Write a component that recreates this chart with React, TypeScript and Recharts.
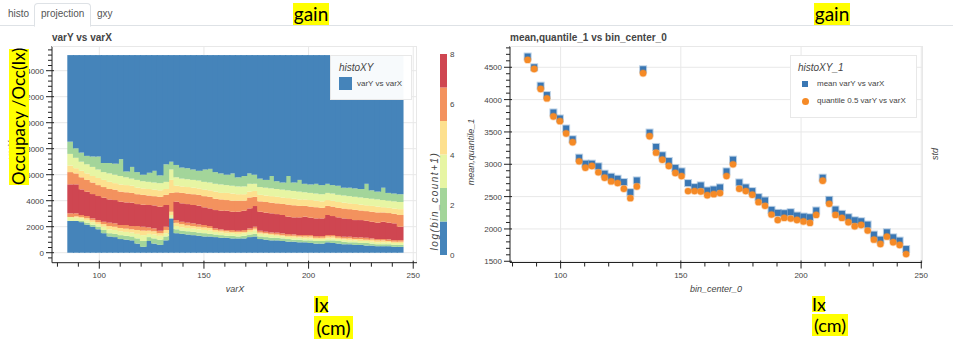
import React from 'react';
import { ComposedChart, BarChart, Bar, Scatter, XAxis, YAxis, CartesianGrid } from 'recharts';

const FONT = '"Liberation Sans", Arial, Helvetica, sans-serif';
const NOTE_FONT = 'Lato, "Open Sans", sans-serif';

// varX bin centres (shared by the 2D histogram and the profile)
const binCenters = [
  86.3, 89.0, 91.7, 94.3, 97.0, 99.7, 102.3, 105.0, 107.7, 110.3,
  113.0, 115.7, 118.3, 121.0, 123.7, 126.3, 129.0, 131.7, 134.3, 137.0,
  139.7, 142.3, 145.0, 147.7, 150.3, 153.0, 155.7, 158.3, 161.0, 163.7,
  166.3, 169.0, 171.7, 174.3, 177.0, 179.7, 182.3, 185.0, 187.7, 190.3,
  193.0, 195.7, 198.3, 201.0, 203.7, 206.3, 209.0, 211.7, 214.3, 217.0,
  219.7, 222.3, 225.0, 227.7, 230.3, 233.0, 235.7, 238.3, 241.0, 243.7,
];

// varY where the log(count+1) colour class changes, per varX column, bottom to top
const blueLowTop = [
  2450, 2450, 2350, 2150, 2000, 1800, 1500, 1250, 1200, 1050,
  1000, 950, 700, 450, 900, 700, 600, 950, 2640, 1500,
  1450, 1400, 1350, 1300, 1250, 1250, 1200, 1150, 1150, 1100,
  1100, 1100, 1200, 1250, 1050, 1000, 950, 950, 900, 850,
  850, 800, 800, 750, 700, 700, 800, 750, 700, 650,
  650, 600, 600, 550, 550, 500, 500, 500, 450, 450,
];
const greenLowTop = [
  2450, 2450, 2450, 2300, 2150, 2000, 1750, 1500, 1450, 1350,
  1300, 1250, 1100, 900, 1200, 1100, 1000, 1250, 2640, 1800,
  1700, 1650, 1600, 1550, 1500, 1450, 1400, 1350, 1300, 1300,
  1250, 1300, 1400, 1450, 1250, 1200, 1150, 1150, 1100, 1050,
  1000, 1000, 950, 950, 900, 900, 950, 950, 900, 850,
  800, 800, 750, 750, 700, 650, 650, 650, 600, 600,
];
const paleLowTop = [
  2750, 2700, 2650, 2500, 2350, 2200, 2000, 1800, 1750, 1650,
  1600, 1550, 1450, 1350, 1450, 1400, 1300, 1500, 2900, 2050,
  1950, 1900, 1850, 1800, 1750, 1700, 1600, 1550, 1500, 1500,
  1450, 1500, 1600, 1700, 1450, 1400, 1350, 1300, 1250, 1200,
  1150, 1150, 1100, 1100, 1050, 1050, 1100, 1100, 1050, 1000,
  950, 950, 900, 900, 850, 800, 800, 800, 750, 750,
];
const yellowLowTop = [
  2750, 2800, 2750, 2650, 2500, 2350, 2200, 2050, 2000, 1900,
  1850, 1800, 1750, 1700, 1700, 1650, 1500, 1750, 3150, 2300,
  2200, 2100, 2050, 2000, 1950, 1900, 1750, 1700, 1650, 1600,
  1600, 1600, 1750, 1850, 1550, 1500, 1450, 1400, 1350, 1300,
  1300, 1250, 1250, 1250, 1150, 1150, 1250, 1250, 1150, 1100,
  1100, 1050, 1050, 1000, 1000, 950, 950, 900, 850, 850,
];
const orangeLowTop = [
  3030, 3030, 2900, 2820, 2640, 2510, 2380, 2310, 2260, 2130,
  2130, 2050, 2050, 2000, 1950, 1870, 1690, 2000, 4600, 2510,
  2380, 2310, 2260, 2180, 2130, 2050, 1870, 1800, 1740, 1740,
  1690, 1740, 1870, 2000, 1690, 1615, 1560, 1540, 1490, 1435,
  1410, 1360, 1360, 1360, 1280, 1280, 1360, 1360, 1280, 1230,
  1230, 1180, 1180, 1150, 1100, 1050, 1050, 1030, 970, 970,
];
const redTop = [
  5260, 5260, 4870, 4690, 4510, 4360, 4230, 4100, 4050, 3920,
  3870, 3850, 3740, 3690, 3670, 3640, 3540, 3670, 4600, 3920,
  3800, 3740, 3670, 3620, 3490, 3410, 3280, 3230, 3230, 3150,
  3150, 3230, 3410, 3590, 3150, 3080, 3030, 2970, 2900, 2770,
  2720, 2720, 2770, 2690, 2640, 2640, 2900, 2820, 2720, 2640,
  2590, 2510, 2510, 2460, 2380, 2310, 2380, 2310, 2260, 2000,
];
const orangeHighTop = [
  6200, 6100, 5800, 5600, 5400, 5200, 5050, 4900, 4850, 4700,
  4650, 4600, 4500, 4450, 4400, 4350, 4300, 4450, 4600, 4650,
  4600, 4550, 4500, 4450, 4350, 4300, 4150, 4100, 4050, 4000,
  4000, 4000, 4250, 4300, 3950, 3900, 3850, 3800, 3750, 3700,
  3650, 3600, 3600, 3550, 3500, 3450, 3600, 3550, 3450, 3400,
  3350, 3300, 3250, 3200, 3150, 3100, 3100, 3050, 3000, 2900,
];
const yellowHighTop = [
  6700, 6500, 6300, 6100, 5900, 5750, 5600, 5450, 5350, 5250,
  5200, 5150, 5000, 4950, 4900, 4850, 4800, 4900, 5600, 5150,
  5100, 5050, 5000, 4950, 4850, 4800, 4700, 4600, 4600, 4550,
  4500, 4500, 4700, 4750, 4450, 4400, 4350, 4300, 4250, 4200,
  4150, 4100, 4100, 4050, 4000, 3950, 4050, 4000, 3900, 3850,
  3800, 3750, 3700, 3650, 3600, 3550, 3500, 3450, 3400, 3350,
];
const paleHighTop = [
  7600, 7300, 7000, 6800, 6600, 6400, 6200, 6100, 6000, 5900,
  5800, 5700, 5600, 5500, 5450, 5400, 5350, 5450, 6400, 5800,
  5700, 5650, 5600, 5550, 5450, 5400, 5300, 5250, 5200, 5150,
  5100, 5100, 5300, 5300, 5050, 5000, 4950, 4900, 4850, 4800,
  4750, 4700, 4650, 4600, 4550, 4500, 4600, 4550, 4450, 4400,
  4350, 4300, 4250, 4200, 4150, 4100, 4050, 4000, 3950, 3900,
];
const greenHighTop = [
  8540, 8030, 7700, 7450, 7400, 7400, 6900, 6900, 6850, 7200,
  6250, 6600, 6200, 6000, 6150, 6300, 5950, 6800, 7000, 6750,
  6550, 6500, 6400, 6300, 6400, 6450, 6200, 6100, 6000, 6100,
  5800, 5900, 6100, 6000, 5700, 5600, 5900, 5500, 5400, 5900,
  5400, 5600, 5300, 5250, 5300, 5200, 5300, 5200, 5150, 5000,
  5000, 4950, 4900, 5300, 4800, 4700, 5000, 4600, 4550, 4500,
];
const histTop = 15200;

// profile of varY per varX bin
const meanY = [
  4666, 4500, 4215, 4070, 3801, 3708, 3553, 3387, 3102, 3009,
  3009, 2968, 2854, 2807, 2776, 2725, 2569, 2750, 4469, 3490,
  3268, 3139, 3050, 2942, 2890, 2709, 2647, 2673, 2595, 2610,
  2642, 2890, 3071, 2719, 2642, 2585, 2492, 2440, 2295, 2248,
  2243, 2259, 2207, 2191, 2181, 2285, 2792, 2450, 2300, 2233,
  2181, 2134, 2119, 2067, 1912, 1834, 1948, 1870, 1819, 1689,
];
const medianY = [
  4614, 4474, 4163, 4019, 3739, 3667, 3475, 3341, 3045, 2947,
  2973, 2875, 2792, 2735, 2709, 2621, 2476, 2657, 4407, 3433,
  3180, 3071, 2973, 2864, 2817, 2585, 2585, 2580, 2522, 2538,
  2554, 2817, 2999, 2621, 2585, 2528, 2414, 2357, 2222, 2139,
  2171, 2160, 2139, 2114, 2093, 2217, 2745, 2388, 2217, 2171,
  2103, 2041, 2062, 1974, 1834, 1767, 1881, 1793, 1751, 1611,
];

// colour bar classes for log(bin_count+1)
const colorEdges = [0, 1.333, 2.667, 4, 5.333, 6.667, 8];
const colorTicks = [0, 2, 4, 6, 8];

const leftXMajors = [100, 150, 200, 250];
const leftYMajors = [0, 2000, 4000, 6000, 8000, 10000, 12000, 14000];
const rightXMajors = [100, 150, 200, 250];
const rightYMajors = [1500, 2000, 2500, 3000, 3500, 4000, 4500];

const BLUE = '#4584ba';
const GREEN = '#a3d59a';
const PALE = '#e7f5a3';
const YELLOW = '#fde08e';
const ORANGE = '#f3925e';
const RED = '#cf4651';
const classColors = [BLUE, GREEN, PALE, YELLOW, ORANGE, RED];
const segColors = [BLUE, GREEN, PALE, YELLOW, ORANGE, RED, ORANGE, YELLOW, PALE, GREEN, BLUE];

const edgeArrays = [
  blueLowTop, greenLowTop, paleLowTop, yellowLowTop, orangeLowTop,
  redTop, orangeHighTop, yellowHighTop, paleHighTop, greenHighTop,
];

const heatRows = binCenters.map((x, i) => {
  const row: Record<string, number> = { x };
  let prev = 0;
  edgeArrays.forEach((arr, j) => {
    row['s' + j] = arr[i] - prev;
    prev = arr[i];
  });
  row.s10 = histTop - prev;
  return row;
});

const profileRows = binCenters.map((x, i) => ({ x, mean: meanY[i], median: medianY[i] }));

const colorRow: Record<string, number | string> = { name: 'cb' };
colorEdges.slice(1).forEach((v, i) => { colorRow['c' + i] = v - colorEdges[i]; });

// major + minor tick positions (5 minor intervals per major)
const withMinors = (majors: number[], lo: number, hi: number) => {
  const step = (majors[1] - majors[0]) / 5;
  const out: number[] = [];
  let v = majors[0];
  while (v - step >= lo) v -= step;
  for (; v <= hi; v += step) out.push(Math.round(v * 1000) / 1000);
  return out;
};

const makeTick = (side: 'left' | 'bottom', majors: number[]) => (p: any) => {
  const v = p.payload.value;
  const major = majors.indexOf(v) >= 0;
  const out = major ? 6 : 4;
  const inn = major ? 2 : 0;
  if (side === 'left') {
    return (
      <g>
        <line x1={p.x + inn} x2={p.x - out} y1={p.y} y2={p.y} stroke="#222" />
        {major && (
          <text x={p.x - 8} y={p.y} dy={3} textAnchor="end" fontSize={8} fill="#444" fontFamily={FONT}>{v}</text>
        )}
      </g>
    );
  }
  return (
    <g>
      <line x1={p.x} x2={p.x} y1={p.y - inn} y2={p.y + out} stroke="#222" />
      {major && (
        <text x={p.x} y={p.y + 15} textAnchor="middle" fontSize={8} fill="#444" fontFamily={FONT}>{v}</text>
      )}
    </g>
  );
};

// histogram cell, widened a little so neighbouring columns close up
const HeatCell = (p: any) => (
  <rect x={p.x - 0.6} y={p.y} width={p.width + 1.8} height={Math.max(p.height, 0)} fill={p.fill} />
);

const MeanMark = (p: any) => (
  <rect x={p.cx - 3} y={p.cy - 3} width={6} height={6} fill="#3a77b4" stroke="rgba(58,119,180,0.35)" strokeWidth={2} />
);
const MedianMark = (p: any) => (
  <circle cx={p.cx} cy={p.cy} r={3.2} fill="#f58a26" stroke="rgba(245,138,38,0.35)" strokeWidth={1.5} />
);

const VText = ({ cx, cy, w, style, children }: any) => (
  <div style={{
    position: 'absolute', left: cx - w / 2, top: cy - 7, width: w, height: 14, lineHeight: '14px',
    textAlign: 'center', transform: 'rotate(-90deg)', whiteSpace: 'nowrap', ...style,
  }}>{children}</div>
);

const Note = ({ left, top, width, height, size, children }: any) => (
  <div style={{
    position: 'absolute', left, top, width, height, background: '#ffff00', color: '#000',
    fontFamily: NOTE_FONT, fontSize: size, lineHeight: `${height}px`, whiteSpace: 'nowrap', textAlign: 'center',
  }}>{children}</div>
);

const tabText: React.CSSProperties = { position: 'absolute', top: 8, fontSize: 10, color: '#555', fontFamily: FONT };
const axisTitle: React.CSSProperties = { fontSize: 9, fontStyle: 'italic', color: '#444', fontFamily: FONT };
const plotTitle: React.CSSProperties = { position: 'absolute', top: 32, fontSize: 10, fontWeight: 'bold', color: '#444', fontFamily: FONT };
const legendBox: React.CSSProperties = {
  position: 'absolute', background: 'rgba(255,255,255,0.96)', border: '1px solid #e8e8e8', fontFamily: FONT,
};

export default function App() {
  const leftXTicks = withMinors(leftXMajors, 77.4, 251.8);
  const leftYTicks = withMinors(leftYMajors, -769, 15900);
  const rightXTicks = withMinors(rightXMajors, 78.95, 250.3);
  const rightYTicks = withMinors(rightYMajors, 1481, 4829);

  return (
    <div style={{ position: 'absolute', left: 0, top: 0, width: 953, height: 339, background: '#fff', overflow: 'hidden', fontFamily: FONT }}>
      {/* tab strip */}
      <div style={{ position: 'absolute', left: 0, top: 25, width: 953, height: 1, background: '#dee2e6' }} />
      <div style={{ ...tabText, left: 8 }}>histo</div>
      <div style={{
        position: 'absolute', left: 34, top: 3, width: 55, height: 22, border: '1px solid #dee2e6', borderBottom: '1px solid #fff',
        borderRadius: '4px 4px 0 0', background: '#fff',
      }} />
      <div style={{ ...tabText, left: 41 }}>projection</div>
      <div style={{ ...tabText, left: 97 }}>gxy</div>

      {/* 2D histogram */}
      <div style={{ ...plotTitle, left: 52, whiteSpace: 'nowrap' }}>varY vs varX</div>
      <div style={{ position: 'absolute', left: 0, top: 0 }}>
        <ComposedChart width={470} height={339} data={heatRows} margin={{ top: 46, right: 53, bottom: 0, left: 0 }} barCategoryGap={0} barGap={0}>
          <CartesianGrid stroke="#e8e8e8" horizontalValues={leftYMajors} verticalValues={leftXMajors} />
          <XAxis dataKey="x" type="number" domain={[77.4, 251.8]} allowDataOverflow ticks={leftXTicks} interval={0}
            height={76.3} tickSize={0} tickMargin={0} tickLine={false} axisLine={{ stroke: '#222' }} tick={makeTick('bottom', leftXMajors)} />
          <YAxis type="number" domain={[-769, 15900]} allowDataOverflow ticks={leftYTicks} interval={0}
            width={52} tickSize={0} tickMargin={0} tickLine={false} axisLine={{ stroke: '#222' }} tick={makeTick('left', leftYMajors)} />
          {segColors.map((c, j) => (
            <Bar key={j} dataKey={'s' + j} stackId="h" fill={c} shape={HeatCell} isAnimationActive={false} />
          ))}
        </ComposedChart>
      </div>
      <div style={{ position: 'absolute', left: 52, top: 46, width: 365, height: 216, border: '1px solid #e8e8e8', borderLeft: 'none', borderBottom: 'none', boxSizing: 'border-box' }} />
      <div style={{ ...axisTitle, position: 'absolute', left: 215, top: 284, width: 40, textAlign: 'center' }}>varX</div>
      <VText cx={11} cy={150} w={40} style={axisTitle}>varY</VText>
      <div style={{ ...legendBox, left: 330, top: 55, width: 80, height: 43 }}>
        <div style={{ position: 'absolute', left: 8, top: 6, fontSize: 10, fontStyle: 'italic', color: '#444' }}>histoXY</div>
        <div style={{ position: 'absolute', left: 8, top: 21, width: 13, height: 13, background: BLUE }} />
        <div style={{ position: 'absolute', left: 26, top: 23, fontSize: 8, color: '#444', whiteSpace: 'nowrap' }}>varY vs varX</div>
      </div>

      {/* colour bar */}
      <div style={{ position: 'absolute', left: 440, top: 48 }}>
        <BarChart width={30} height={213} data={[colorRow]} margin={{ top: 6, right: 0, bottom: 6, left: 0 }} barCategoryGap={0}>
          <XAxis dataKey="name" hide />
          <YAxis orientation="right" type="number" domain={[0, 8]} ticks={colorTicks} interval={0} width={23}
            tickSize={0} tickMargin={0} tickLine={false} axisLine={false}
            tick={(p: any) => <text x={p.x + 3} y={p.y} dy={3} fontSize={8} fill="#444" fontFamily={FONT}>{p.payload.value}</text>} />
          {classColors.map((c, i) => (
            <Bar key={i} dataKey={'c' + i} stackId="cb" fill={c} isAnimationActive={false} />
          ))}
        </BarChart>
      </div>
      <div style={{ position: 'absolute', left: 385, top: 194, width: 100, height: 14, lineHeight: '14px', textAlign: 'center', transform: 'rotate(-90deg)', whiteSpace: 'nowrap', ...axisTitle, fontSize: 10, letterSpacing: 1.5 }}>log(bin_count+1)</div>

      {/* profile */}
      <div style={{ ...plotTitle, left: 510, whiteSpace: 'nowrap' }}>mean,quantile_1 vs bin_center_0</div>
      <div style={{ position: 'absolute', left: 470, top: 0 }}>
        <ComposedChart width={483} height={339} data={profileRows} margin={{ top: 46, right: 31, bottom: 0, left: 0 }}>
          <CartesianGrid stroke="#e8e8e8" horizontalValues={rightYMajors} verticalValues={rightXMajors} />
          <XAxis dataKey="x" type="number" domain={[78.95, 250.3]} allowDataOverflow ticks={rightXTicks} interval={0}
            height={76.5} tickSize={0} tickMargin={0} tickLine={false} axisLine={{ stroke: '#222' }} tick={makeTick('bottom', rightXMajors)} />
          <YAxis type="number" domain={[1481, 4829]} allowDataOverflow ticks={rightYTicks} interval={0}
            width={40} tickSize={0} tickMargin={0} tickLine={false} axisLine={{ stroke: '#222' }} tick={makeTick('left', rightYMajors)} />
          <Scatter dataKey="mean" shape={MeanMark} isAnimationActive={false} />
          <Scatter dataKey="median" shape={MedianMark} isAnimationActive={false} />
        </ComposedChart>
      </div>
      <div style={{ position: 'absolute', left: 510, top: 46, width: 413, height: 217, border: '1px solid #e8e8e8', borderLeft: 'none', borderBottom: 'none', boxSizing: 'border-box' }} />
      <div style={{ ...axisTitle, position: 'absolute', left: 666, top: 284, width: 100, textAlign: 'center' }}>bin_center_0</div>
      <VText cx={471} cy={152} w={90} style={axisTitle}>mean,quantile_1</VText>
      <VText cx={935} cy={154} w={30} style={axisTitle}>std</VText>
      <div style={{ ...legendBox, left: 790, top: 55, width: 125, height: 61 }}>
        <div style={{ position: 'absolute', left: 7, top: 6, fontSize: 10, fontStyle: 'italic', color: '#444' }}>histoXY_1</div>
        <div style={{ position: 'absolute', left: 11, top: 25, width: 6, height: 6, background: '#3a77b4' }} />
        <div style={{ position: 'absolute', left: 26, top: 23, fontSize: 8, color: '#444', whiteSpace: 'nowrap' }}>mean varY vs varX</div>
        <div style={{ position: 'absolute', left: 11, top: 42, width: 7, height: 7, borderRadius: '50%', background: '#f58a26' }} />
        <div style={{ position: 'absolute', left: 26, top: 40, fontSize: 8, color: '#444', whiteSpace: 'nowrap' }}>quantile 0.5 varY vs varX</div>
      </div>

      {/* annotations */}
      <Note left={293} top={3} width={36} height={22} size={19}>gain</Note>
      <Note left={814} top={3} width={36} height={22} size={19}>gain</Note>
      <Note left={314} top={296} width={14} height={17} size={19}>Ix</Note>
      <Note left={314} top={316} width={39} height={23} size={19}>(cm)</Note>
      <Note left={812} top={296} width={13} height={16} size={18}>Ix</Note>
      <Note left={812} top={314} width={36} height={22} size={18}>(cm)</Note>
      <div style={{
        position: 'absolute', left: 19.3 - 68, top: 117 - 10, width: 136, height: 20, background: '#ffff00', color: '#000',
        fontFamily: NOTE_FONT, fontSize: 17, lineHeight: '20px', textAlign: 'center', whiteSpace: 'nowrap', transform: 'rotate(-90deg)',
      }}>Occupacy /Occ(Ix)</div>
    </div>
  );
}
